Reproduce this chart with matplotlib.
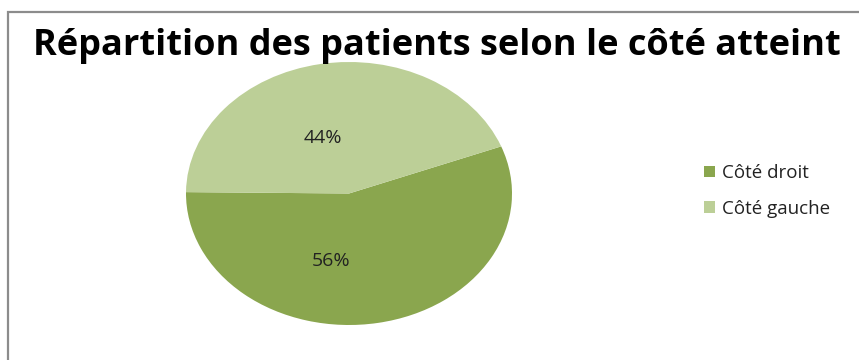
import matplotlib.pyplot as plt
from matplotlib.patches import Rectangle

plt.rcParams['font.family'] = ['Open Sans', 'DejaVu Sans']

labels = ['Côté droit', 'Côté gauche']
values = [56, 44]
colors = ['#8aa64e', '#bccf97']
title = 'Répartition des patients selon le côté atteint'

W, H = 859, 360
fig = plt.figure(figsize=(W / 100, H / 100), dpi=100)

# cadre gris (seuls les bords gauche et haut sont visibles)
fig.add_artist(Rectangle((8 / W, -0.2), 2, 1.2 - 12 / H, transform=fig.transFigure,
                         fill=False, edgecolor='#8c8c8c', lw=1.6))

# axe étiré pour obtenir une ellipse comme dans Excel
ax = fig.add_axes([186 / W, 1 - 325 / H, 326 / W, 263 / H])
wedges, texts, autotexts = ax.pie(values, colors=colors, startangle=21, counterclock=False,
                                  autopct='%d%%', pctdistance=0.5,
                                  textprops={'fontsize': 14, 'color': '#222222'})
ax.set_aspect('auto')
ax.set_xlim(-1, 1)
ax.set_ylim(-1, 1)

# décalage des étiquettes de pourcentage vers la gauche (comme Excel)
for t, (dx, dy) in zip(autotexts, [(-0.2, -0.02), (-0.07, -0.07)]):
    x, y = t.get_position()
    t.set_position((x + dx, y + dy))

fig.text(437 / W, 1 - 46 / H, title, ha='center', va='center',
         fontsize=26, fontweight='bold', color='black')

fig.legend(wedges, labels, loc='center left', bbox_to_anchor=(687 / W, 1 - 191 / H),
           frameon=False, fontsize=13.5, handlelength=0.6, handleheight=0.6,
           handletextpad=0.35, labelspacing=0.95, labelcolor='#222222')

fig.savefig('out.png', dpi=100, facecolor='white')
